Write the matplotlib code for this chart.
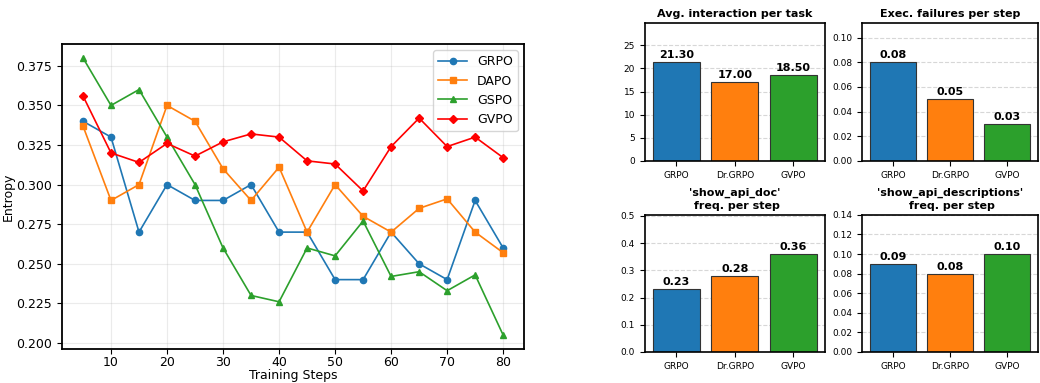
import matplotlib
matplotlib.use("Agg")
import matplotlib.pyplot as plt
from matplotlib.ticker import MultipleLocator

steps = [5, 10, 15, 20, 25, 30, 35, 40, 45, 50, 55, 60, 65, 70, 75, 80]
grpo = [0.340, 0.330, 0.270, 0.300, 0.290, 0.290, 0.300, 0.270, 0.270, 0.240, 0.240, 0.270, 0.250, 0.240, 0.290, 0.260]
dapo = [0.337, 0.290, 0.300, 0.350, 0.340, 0.310, 0.290, 0.311, 0.270, 0.300, 0.280, 0.270, 0.285, 0.291, 0.270, 0.257]
gspo = [0.380, 0.350, 0.360, 0.330, 0.300, 0.260, 0.230, 0.226, 0.260, 0.255, 0.277, 0.242, 0.245, 0.233, 0.243, 0.205]
gvpo = [0.356, 0.320, 0.314, 0.326, 0.318, 0.327, 0.332, 0.330, 0.315, 0.313, 0.296, 0.324, 0.342, 0.324, 0.330, 0.317]

methods = ["GRPO", "Dr.GRPO", "GVPO"]
avg_interaction = [21.30, 17.00, 18.50]
exec_failures = [0.08, 0.05, 0.03]
api_doc_freq = [0.23, 0.28, 0.36]
api_desc_freq = [0.09, 0.08, 0.10]

bar_colors = ["#1f77b4", "#ff7f0e", "#2ca02c"]

fig = plt.figure(figsize=(10.4, 3.83), dpi=100)

# left: entropy curves
ax = fig.add_axes([0.0596, 0.089, 0.4444, 0.796])
ax.plot(steps, grpo, marker="o", markersize=4.5, linewidth=1.2, color="#1f77b4", label="GRPO")
ax.plot(steps, dapo, marker="s", markersize=4.5, linewidth=1.2, color="#ff7f0e", label="DAPO")
ax.plot(steps, gspo, marker="^", markersize=4.5, linewidth=1.2, color="#2ca02c", label="GSPO")
ax.plot(steps, gvpo, marker="D", markersize=4.5, linewidth=1.2, color="red", label="GVPO")
ax.set_xlabel("Training Steps", fontsize=9, labelpad=0)
ax.set_ylabel("Entropy", fontsize=9, labelpad=1)
ax.tick_params(labelsize=9)
ax.tick_params(axis="x", pad=1.5)
ax.grid(True, alpha=0.25)
for s in ax.spines.values():
  s.set_linewidth(1.3)
ax.legend(loc="upper right", fontsize=9, handlelength=2.3)

# right: 2x2 bar panels
panels = [
  ([0.620, 0.580, 0.173, 0.360], avg_interaction, "Avg. interaction per task", 5),
  ([0.829, 0.580, 0.169, 0.360], exec_failures, "Exec. failures per step", 0.02),
  ([0.620, 0.081, 0.173, 0.358], api_doc_freq, "'show_api_doc'\n freq. per step", 0.1),
  ([0.829, 0.081, 0.169, 0.358], api_desc_freq, "'show_api_descriptions'\n freq. per step", 0.02),
]

for rect, vals, title, step in panels:
  bx = fig.add_axes(rect)
  bars = bx.bar(methods, vals, color=bar_colors, edgecolor="#333333", linewidth=0.8, width=0.8)
  bx.set_ylim(0, max(vals) * 1.4)
  bx.yaxis.set_major_locator(MultipleLocator(step))
  bx.set_title(title, fontsize=8, fontweight="bold", pad=4, linespacing=1.45)
  bx.tick_params(labelsize=6.5)
  bx.grid(True, axis="y", linestyle="--", alpha=0.5)
  bx.set_axisbelow(True)
  for s in bx.spines.values():
    s.set_linewidth(1.2)
  for bar, v in zip(bars, vals):
    bx.text(
      bar.get_x() + bar.get_width() / 2,
      bar.get_height() + max(vals) * 0.02,
      f"{v:.2f}",
      ha="center",
      va="bottom",
      fontsize=8,
      fontweight="bold"
    )

fig.savefig("out.png", dpi=100)
